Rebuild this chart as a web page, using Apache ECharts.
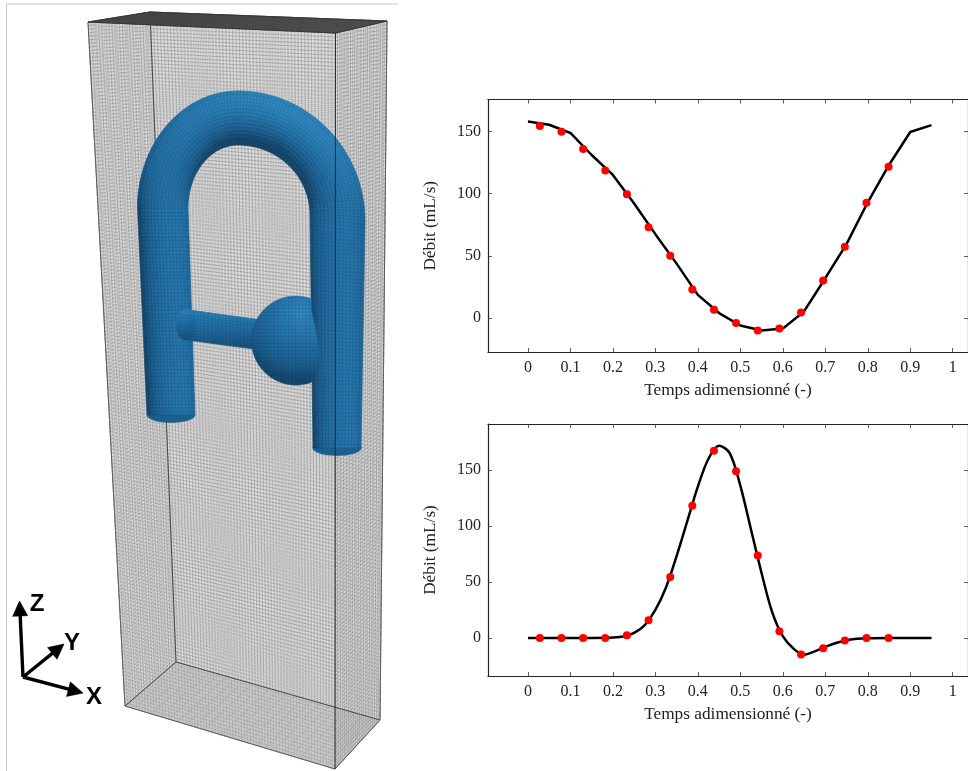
<!DOCTYPE html>
<html><head><meta charset="utf-8"><style>html,body{margin:0;padding:0;background:#fff}#c{width:968px;height:771px}</style>
<script src="https://cdn.jsdelivr.net/npm/echarts@6/dist/echarts.min.js"></script></head><body><div id="c"></div>
<script>
const xTicks=[0,0.1,0.2,0.3,0.4,0.5,0.6,0.7,0.8,0.9,1];
const yTicks=[0,50,100,150];
const sampleT=[0.028,0.079,0.130,0.182,0.233,0.284,0.335,0.387,0.438,0.490,0.541,0.592,0.643,0.695,0.746,0.797,0.849];
const sample1=[154.3,149.7,135.9,118.6,99.4,73,50.1,22.9,6.7,-4,-10.1,-8.5,4.5,30.1,57.3,92.7,121.5];
const sample2=[0,0,0,0,2.4,15.7,54.5,118,167.2,148.8,73.5,5.9,-14.8,-9.2,-2.4,0,0];
const curve1T=[0,0.05,0.1,0.15,0.2,0.25,0.3,0.35,0.4,0.45,0.5,0.55,0.6,0.65,0.7,0.75,0.8,0.85,0.9,0.95];
const curve1=[158,155.3,148.7,131,115,92,67.4,43.7,18.6,4,-6,-10,-8.5,5.3,32,59.4,93,123,149.5,155];
const curve2T=[0,0.05,0.1,0.15,0.2,0.225,0.25,0.275,0.3,0.325,0.35,0.375,0.4,0.425,0.45,0.475,0.5,0.525,0.55,0.575,0.6,0.625,0.65,0.675,0.7,0.725,0.75,0.775,0.8,0.85,0.95];
const curve2=[0,0,0,0,0.3,1.2,4.5,11.5,25,45,73,104,135,160,171.5,165,136,97,58,23,1.5,-9.5,-15,-12,-8,-4.5,-2,-0.8,-0.2,0,0];

const zip=(a,b)=>a.map((v,i)=>[v,b[i]]);
const serif='"Liberation Serif","DejaVu Serif",serif';
const g=[];
const lerp=(a,b,t)=>[a[0]+(b[0]-a[0])*t,a[1]+(b[1]-a[1])*t];
function poly(points,fill,z){g.push({type:'polygon',silent:true,z:z,shape:{points},style:{fill,stroke:fill,lineWidth:.6}});}
function pl(points,stroke,w,z){g.push({type:'polyline',silent:true,z:z,shape:{points},style:{stroke,lineWidth:w,fill:'none'}});}
function zig(a0,a1,b0,b1,n,stroke,w,z){const pts=[];for(let i=0;i<=n;i++){const p=lerp(a0,b0,i/n),q=lerp(a1,b1,i/n);if(i%2){pts.push(q,p);}else{pts.push(p,q);}}pl(pts,stroke,w,z);}
function face(P,nu,nv,fill,stroke,w,z){poly(P,fill,z);zig(P[0],P[3],P[1],P[2],nu,stroke,w,z+.1);zig(P[0],P[1],P[3],P[2],nv,stroke,w,z+.1);}

// page frame
pl([[6.5,771],[6.5,4],[398,4]],'#c8c8c8',1,1);
// box
const A=[88,22],B=[150,12],C=[387,21],D=[335.5,33],A2=[125,706],B2=[176,662],C2=[380,720],D2=[335,769];
const ms='rgba(70,70,70,.42)';
face([B,C,C2,B2],72,190,'#dedede',ms,.5,2);
face([A,B,B2,A2],24,190,'#dadada',ms,.5,3);
face([A2,B2,C2,D2],72,24,'#dadada','rgba(80,80,80,.3)',.5,3);
face([A,D,C,B],72,24,'#8c8c8c','rgba(30,30,30,.55)',.5,30);
face([D,C,C2,D2],24,190,'rgba(220,220,220,.3)',ms,.5,4);
face([A,D,D2,A2],72,197,'rgba(220,220,220,.25)','rgba(70,70,70,.3)',.5,5);
[[B,B2],[B2,A2],[B2,C2]].forEach(e=>pl(e,'#3a3a3a',.9,6));
[[D,D2]].forEach(e=>pl(e,'#222',.9,40));
[[A,A2],[C,C2],[A2,D2],[D2,C2]].forEach(e=>pl(e,'#555',.9,7));
[[A,D],[D,C],[A,B],[B,C]].forEach(e=>pl(e,'#333',.9,31));

// tube centre outline, sampled as straight legs + two quarter ellipses per side
function legPts(a,b,n){const o=[];for(let i=0;i<n;i++)o.push(lerp(a,b,i/n));return o;}
function quarter(cx,cy,rx,ry,a0,a1,n){const o=[];for(let i=0;i<n;i++){const a=a0+(a1-a0)*i/n;o.push([cx+rx*Math.cos(a),cy+ry*Math.sin(a)]);}return o;}
const Q=Math.PI/2;
const O=[...legPts([147,415],[137.5,208],6),...quarter(238,208,100.5,117,2*Q,3*Q,32),...quarter(238,221,127,130,3*Q,4*Q,32),...legPts([365,221],[361,448],6),[361,448]];
const I=[...legPts([195,415],[188,208],6),...quarter(238,208,50,63,2*Q,3*Q,32),...quarter(238,215,72,70,3*Q,4*Q,32),...legPts([310,215],[313,448],6),[313,448]];
const stops=[[0,[14,52,80]],[.45,[28,98,148]],[.8,[42,128,184]],[1,[54,150,208]]];
function col(b){b=Math.max(0,Math.min(1,b));for(let i=0;i<stops.length-1;i++){if(b<=stops[i+1][0]){const t=(b-stops[i][0])/(stops[i+1][0]-stops[i][0]);const a=stops[i][1],c=stops[i+1][1];return 'rgb('+[0,1,2].map(k=>Math.round(a[k]+(c[k]-a[k])*t)).join(',')+')';}}return '#3492cc';}
const L=[.3,-.72,.62];
function shade(u,nx,ny){const nz=Math.sqrt(Math.max(0,1-u*u));const d=u*nx*L[0]+u*ny*L[1]+nz*L[2];return .24+.62*Math.max(-.1,d);}
function ell(cx,cy,rx,ry,n){const p=[];for(let i=0;i<n;i++){const a=i/n*Math.PI*2;p.push([cx+rx*Math.cos(a),cy+ry*Math.sin(a)]);}return p;}
poly(ell(171,415,24,7.5,32),'#1b5f8e',10);
poly(ell(337,448,24.2,7.5,32),'#1b5f8e',10);
const NB=14;
for(let s=0;s<O.length-1;s++){
  const dx=O[s][0]-I[s][0]+O[s+1][0]-I[s+1][0],dy=O[s][1]-I[s][1]+O[s+1][1]-I[s+1][1],h=Math.hypot(dx,dy),nx=dx/h,ny=dy/h;
  for(let b=0;b<NB;b++){
    const t0=b/NB,t1=(b+1)/NB,u=(t0+t1)-1;
    poly([lerp(I[s],O[s],t0),lerp(I[s],O[s],t1),lerp(I[s+1],O[s+1],t1),lerp(I[s+1],O[s+1],t0)],col(shade(u,nx,ny)),11);
  }
}
// tube mesh
const mm='rgba(8,35,60,.22)';
function arc(P){const o=[0];for(let i=1;i<P.length;i++)o.push(o[i-1]+Math.hypot(P[i][0]-P[i-1][0],P[i][1]-P[i-1][1]));return o;}
const lenI=arc(O);const total=lenI[lenI.length-1];
{const pts=[];const Nt=15;for(let j=0;j<=Nt;j++){const t=j/Nt;const line=O.map((p,i)=>lerp(I[i],p,t));if(j%2)line.reverse();pts.push(...line);}pl(pts,mm,.5,12);
 const K=Math.round(total/3.5);for(let k=0;k<=K;k++){const d=total*k/K;let i=0;while(i<lenI.length-2&&lenI[i+1]<d)i++;const f=(d-lenI[i])/(lenI[i+1]-lenI[i]);const a=lerp(I[i],I[i+1],f),b=lerp(O[i],O[i+1],f);pl([a,b],mm,.5,12);}}
// connector
const cg={type:'linear',x:0,y:0,x2:0,y2:1,colorStops:[{offset:0,color:'#2a7fb5'},{offset:.45,color:'#1f6da2'},{offset:1,color:'#174f78'}]};
poly([[186,309.5],[262,320],[262,350],[186,340]],cg,13);
poly(ell(186,324.7,10,15.3,28),cg,13);
zig([190,310],[190,340],[262,320],[262,350],20,mm,.5,14);
zig([178,314],[262,325],[178,338],[262,347],8,mm,.5,14);
// sphere (right leg passes in front of it)
const sp=[];const cx=296,cy=340.5,R=44.5;
const edge=y=>y<313?311:(y<353?312+(y-313)*.2:320-(y-353)*.28);
for(let i=0;i<96;i++){const a=i/96*Math.PI*2;let x=cx+R*Math.cos(a),y=cy+R*Math.sin(a);const e=edge(y);if(x>e)x=e;sp.push([x,y]);}
poly(sp,{type:'radial',x:.72,y:.2,r:.95,colorStops:[{offset:0,color:'#3088bf'},{offset:.45,color:'#2470a6'},{offset:.8,color:'#1b5d8c'},{offset:1,color:'#15486e'}]},15);
{for(let y=cy-R+2;y<cy+R;y+=3.5){const w=Math.sqrt(R*R-(y-cy)*(y-cy));pl([[cx-w,y],[Math.min(cx+w,edge(y)),y]],mm,.5,16);}
 for(let x=cx-R+2;x<320;x+=3.5){const w=Math.sqrt(R*R-(x-cx)*(x-cx));const y0=cy-w,y1=cy+w;if(x<edge(y0)&&x<edge(y1))pl([[x,y0],[x,y1]],mm,.5,16);}}
// triad
function arrow(a,b){const dx=b[0]-a[0],dy=b[1]-a[1],l=Math.hypot(dx,dy),ux=dx/l,uy=dy/l,hl=15,hw=7.5;const m=[b[0]-ux*hl,b[1]-uy*hl];
 pl([a,[m[0]+ux*2,m[1]+uy*2]],'#000',3.4,50);poly([b,[m[0]-uy*hw,m[1]+ux*hw],[m[0]+uy*hw,m[1]-ux*hw]],'#000',50);}
arrow([23,677],[19.5,601]);arrow([23,677],[64,644]);arrow([23,677],[83,693]);
[['Z',37,604],['Y',72,643],['X',94,697]].forEach(t=>g.push({type:'text',silent:true,z:51,x:t[1],y:t[2],style:{text:t[0],fontFamily:'"Liberation Sans",Arimo,sans-serif',fontWeight:'bold',fontSize:24,fill:'#000',textAlign:'center',textVerticalAlign:'middle'}}));

const grids=[{left:488,top:99.5,width:481,height:252.5},{left:488,top:424,width:481,height:252}];
const yr=[[-27.3,175.6],[-34,191]];
const lab={fontFamily:serif,fontSize:16,color:'#222'};
const al={show:true,lineStyle:{color:'#222',width:1.2}};
const tk=v=>({show:true,inside:true,length:4,customValues:v,lineStyle:{color:'#333',width:.8}});
const nameStyle={fontFamily:serif,fontSize:17.3,color:'#222'};
const xA=[],yA=[],ser=[];
[0,1].forEach(i=>{
 xA.push({gridIndex:i,type:'value',min:-0.094,max:1.036,position:'bottom',axisLine:{...al,onZero:false},axisTick:tk(xTicks),splitLine:{show:false},
  axisLabel:{...lab,customValues:xTicks,formatter:v=>String(v),margin:8},name:'Temps adimensionné (-)',nameLocation:'middle',nameGap:30,nameTextStyle:nameStyle});
 xA.push({gridIndex:i,type:'value',min:-0.094,max:1.036,position:'top',axisLine:{...al,onZero:false},axisTick:tk(xTicks),axisLabel:{show:false},splitLine:{show:false}});
 yA.push({gridIndex:i,type:'value',min:yr[i][0],max:yr[i][1],position:'left',axisLine:{...al,onZero:false},axisTick:tk(yTicks),splitLine:{show:false},
  axisLabel:{...lab,customValues:yTicks,formatter:v=>String(v),margin:7},name:'Débit (mL/s)',nameLocation:'middle',nameGap:49,nameRotate:90,nameTextStyle:nameStyle});
 yA.push({gridIndex:i,type:'value',min:yr[i][0],max:yr[i][1],position:'right',axisLine:{...al,onZero:false},axisTick:tk(yTicks),axisLabel:{show:false},splitLine:{show:false}});
});
ser.push({name:'Débit 1',type:'line',xAxisIndex:0,yAxisIndex:0,data:zip(curve1T,curve1),showSymbol:false,symbol:'none',lineStyle:{color:'#000',width:2.5},z:3});
ser.push({name:'Mesure 1',type:'scatter',xAxisIndex:0,yAxisIndex:0,data:zip(sampleT,sample1),symbol:'circle',symbolSize:8,itemStyle:{color:'#ff0000',opacity:1},z:4});
ser.push({name:'Débit 2',type:'line',xAxisIndex:2,yAxisIndex:2,data:zip(curve2T,curve2),smooth:.33,showSymbol:false,symbol:'none',lineStyle:{color:'#000',width:2.5},z:3});
ser.push({name:'Mesure 2',type:'scatter',xAxisIndex:2,yAxisIndex:2,data:zip(sampleT,sample2),symbol:'circle',symbolSize:8,itemStyle:{color:'#ff0000',opacity:1},z:4});
const chart=echarts.init(document.getElementById('c'),null,{renderer:'canvas',width:968,height:771});
chart.setOption({animation:false,backgroundColor:'#fff',grid:grids,xAxis:xA,yAxis:yA,series:ser,graphic:{elements:g}});
</script></body></html>
